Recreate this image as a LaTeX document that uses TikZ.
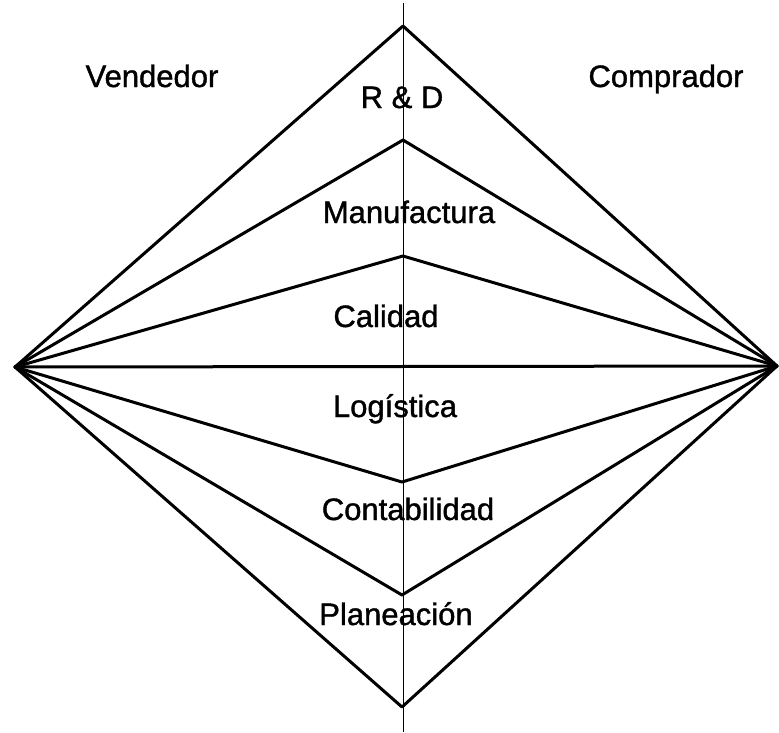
\documentclass[tikz,border=0pt]{standalone}
\usepackage{fontspec}
\setmainfont{Liberation Sans}[FakeBold=1.2]
\begin{document}
\begin{tikzpicture}[x=1pt,y=-1pt,
  edge/.style={line width=3pt,line join=round,line cap=round},
  axis/.style={line width=0.9pt},
  lbl/.style={anchor=base,inner sep=0pt,font=\fontsize{31}{37}\selectfont}]
  \useasboundingbox (0,0) rectangle (779,732);
  % vertices of the diamond and its inner apexes
  \coordinate (L) at (15,367);
  \coordinate (R) at (777,366);
  \coordinate (a1) at (403,26);
  \coordinate (a2) at (403,140);
  \coordinate (a3) at (403,256);
  \coordinate (b1) at (402,482);
  \coordinate (b2) at (402,595);
  \coordinate (b3) at (402,707);
  \coordinate (vtop) at (403,3);
  \coordinate (vbot) at (403,732);
  % centre axis
  \draw[axis] (vtop) -- (vbot);
  % layer boundaries
  \draw[edge] (L) -- (a1) -- (R);
  \draw[edge] (L) -- (a2) -- (R);
  \draw[edge] (L) -- (a3) -- (R);
  \draw[edge] (L) -- (R);
  \draw[edge] (L) -- (b1) -- (R);
  \draw[edge] (L) -- (b2) -- (R);
  \draw[edge] (L) -- (b3) -- (R);
  % labels
  \node[lbl] (vend) at (152,87) {Vendedor};
  \node[lbl] (comp) at (666,87) {Comprador};
  \node[lbl] (rd) at (402,108) {R \& D};
  \node[lbl] (man) at (409,223) {Manufactura};
  \node[lbl] (cal) at (386,327) {Calidad};
  \node[lbl] (log) at (395,417) {Logística};
  \node[lbl] (con) at (408,520) {Contabilidad};
  \node[lbl] (pla) at (396,625) {Planeación};
\end{tikzpicture}
\end{document}
